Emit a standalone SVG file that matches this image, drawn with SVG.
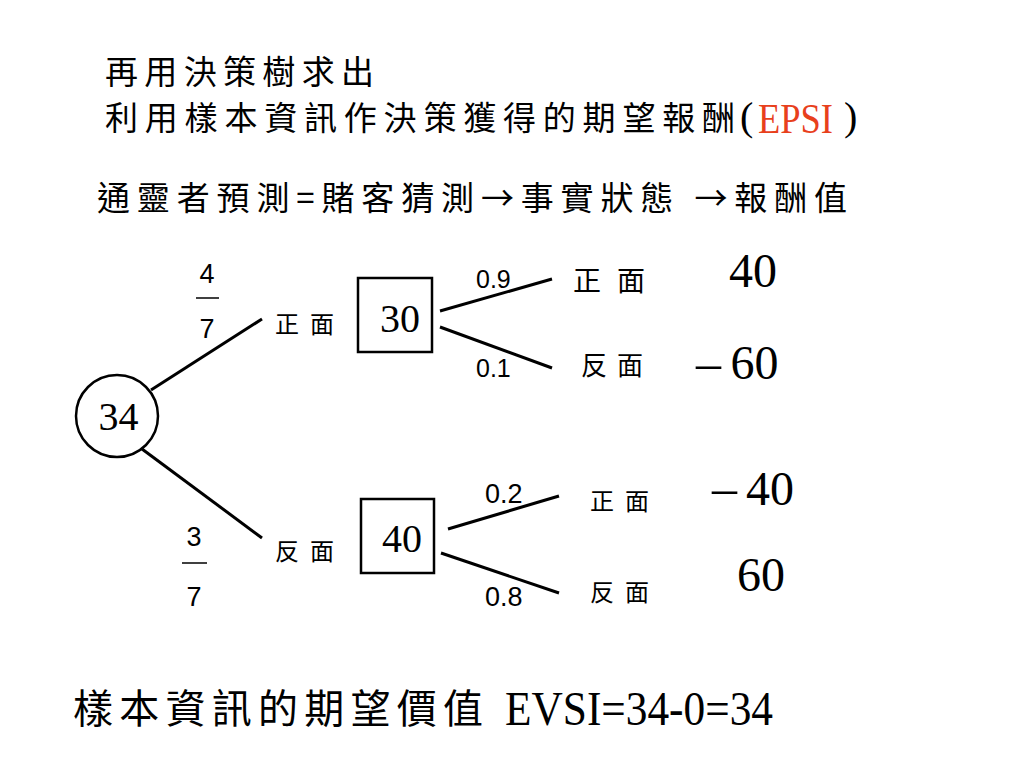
<svg xmlns="http://www.w3.org/2000/svg" width="1024" height="768" viewBox="0 0 1024 768">
<style>
.cjk{font-family:"Noto Sans CJK TC","Noto Sans CJK SC",sans-serif;fill:#000}
.serif{font-family:"Liberation Serif","Noto Sans CJK TC",serif;fill:#000}
.sans{font-family:"Liberation Sans","Noto Sans",sans-serif;fill:#000}
.edge{stroke:#000;stroke-width:3;fill:none}
.node{stroke:#000;stroke-width:2.5;fill:#fff}
.bar{stroke:#000;stroke-width:1.5}
.red{fill:#e8401c}
</style>
<rect width="1024" height="768" fill="#fff"/>

<g id="title">
<text class="cjk" x="105" y="84" font-size="33" textLength="269" lengthAdjust="spacing">再用決策樹求出</text>
<text class="cjk" x="105" y="130" font-size="33" textLength="630" lengthAdjust="spacing">利用樣本資訊作決策獲得的期望報酬</text>
<text class="serif" x="740" y="130" font-size="40">(</text>
<text class="serif red" x="758" y="133" font-size="42" textLength="75" lengthAdjust="spacingAndGlyphs">EPSI</text>
<text class="serif" x="844" y="130" font-size="40">)</text>
<text class="cjk" x="97" y="210" font-size="33" textLength="750" lengthAdjust="spacing">通靈者預測=賭客猜測→事實狀態 →報酬值</text>
</g>

<g id="connectors">
<line class="edge" x1="151" y1="390" x2="262" y2="319"/>
<line class="edge" x1="142" y1="449" x2="262" y2="538"/>
<line class="edge" x1="440" y1="311" x2="552" y2="279"/>
<line class="edge" x1="440" y1="327" x2="552" y2="368"/>
<line class="edge" x1="448" y1="529" x2="559" y2="496"/>
<line class="edge" x1="441" y1="553" x2="559" y2="593"/>
</g>

<g id="root">
<circle class="node" cx="117" cy="416" r="41"/>
<text class="serif" x="118.5" y="430" font-size="40" text-anchor="middle">34</text>
</g>

<g id="prob-upper">
<text class="sans" x="207" y="283" font-size="27" text-anchor="middle">4</text>
<line class="bar" x1="196" y1="298" x2="219" y2="298"/>
<text class="sans" x="207" y="338" font-size="27" text-anchor="middle">7</text>
</g>
<g id="prob-lower">
<text class="sans" x="194" y="546" font-size="27" text-anchor="middle">3</text>
<line class="bar" x1="182" y1="563" x2="207" y2="563"/>
<text class="sans" x="194" y="606" font-size="27" text-anchor="middle">7</text>
</g>

<g id="label-front">
<text class="cjk" x="275 310" y="333" font-size="24">正面</text>
</g>
<g id="label-back">
<text class="cjk" x="275 310" y="560" font-size="24">反面</text>
</g>

<g id="box-30">
<rect class="node" x="358" y="278" width="74" height="74"/>
<text class="serif" x="400" y="332" font-size="40" text-anchor="middle">30</text>
</g>
<g id="box-40">
<rect class="node" x="361" y="499" width="73" height="74"/>
<text class="serif" x="402" y="552" font-size="40" text-anchor="middle">40</text>
</g>

<g id="branch-labels">
<text class="sans" x="476" y="288" font-size="25">0.9</text>
<text class="sans" x="476" y="377" font-size="25">0.1</text>
<text class="sans" x="485" y="503" font-size="27">0.2</text>
<text class="sans" x="485" y="606" font-size="27">0.8</text>
</g>

<g id="leaf-1">
<text class="cjk" x="573 617" y="291" font-size="28">正面</text>
<text class="serif" x="753" y="287" font-size="48" text-anchor="middle">40</text>
</g>
<g id="leaf-2">
<text class="cjk" x="581 617" y="375" font-size="26">反面</text>
<text class="serif" x="696" y="380" font-size="50">–</text>
<text class="serif" x="754.5" y="379" font-size="48" text-anchor="middle">60</text>
</g>
<g id="leaf-3">
<text class="cjk" x="590 625" y="510" font-size="24">正面</text>
<text class="serif" x="712" y="505" font-size="50">–</text>
<text class="serif" x="770" y="505" font-size="48" text-anchor="middle">40</text>
</g>
<g id="leaf-4">
<text class="cjk" x="590 625" y="601" font-size="24">反面</text>
<text class="serif" x="761" y="591" font-size="48" text-anchor="middle">60</text>
</g>

<g id="footer">
<text class="cjk" x="73" y="723" font-size="40" textLength="410" lengthAdjust="spacing">樣本資訊的期望價值</text>
<text class="serif" x="505" y="725" font-size="49" textLength="268" lengthAdjust="spacingAndGlyphs">EVSI=34-0=34</text>
</g>
</svg>
